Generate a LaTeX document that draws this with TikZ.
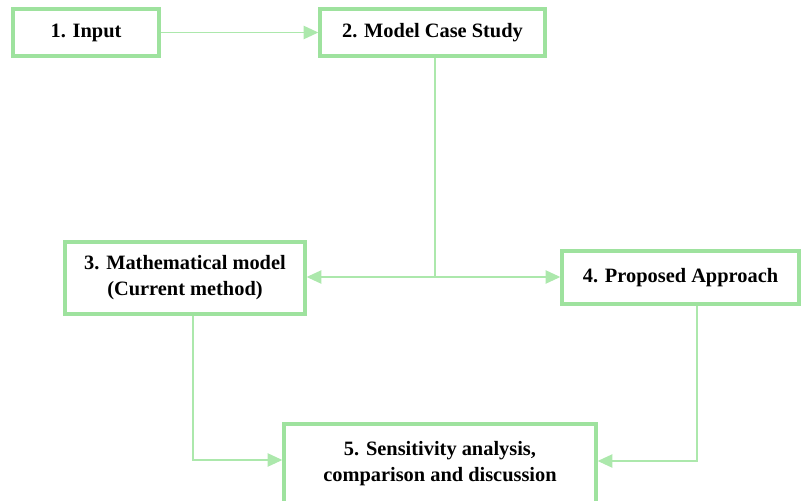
\documentclass[tikz,border=0pt]{standalone}
\usepackage{fontspec}
\setmainfont{Liberation Serif}
\usetikzlibrary{arrows.meta,positioning,calc}

\definecolor{boxgreen}{RGB}{158,226,158}
\definecolor{linegreen}{RGB}{172,232,172}

\begin{document}
\begin{tikzpicture}[
    x=0.025cm, y=-0.025cm,
    block/.style={draw=boxgreen, line width=2.4pt, rectangle, fill=white, align=center, inner sep=2pt, font=\fontsize{14.5}{18.5}\selectfont\bfseries},
    edge/.style={draw=linegreen, line width=1.1pt},
    arrow/.style={edge, -{Triangle[length=10.5pt,width=9.5pt]}},
]
\useasboundingbox (0,0) rectangle (801,500);

% Input and case study
\node[block, minimum width=146*0.025cm, minimum height=47*0.025cm] (one) at (86,32.5) {1. Input};
\node[block, minimum width=225*0.025cm, minimum height=47*0.025cm] (two) at (432.5,32.5) {2. Model Case Study};

% Methods
\node[block, minimum width=240*0.025cm, minimum height=72*0.025cm] (three) at (185,278) {3. Mathematical model\\(Current method)};
\node[block, minimum width=237*0.025cm, minimum height=53*0.025cm] (four) at (680.5,277.5) {4. Proposed Approach};

% Results
\node[block, minimum width=312*0.025cm, minimum height=80*0.025cm] (five) at (440,464) {5. Sensitivity analysis,\\comparison and discussion};

\coordinate (fork) at (435,277);
\coordinate (bendL) at (193,460);
\coordinate (bendR) at (697,461);

\draw[arrow] (one) -- (two);
\draw[edge] (two.south -| fork) -- (fork);
\draw[arrow] (fork) -- (fork -| three.east);
\draw[arrow] (fork) -- (fork -| four.west);
\draw[arrow] (three.south -| bendL) |- (five.west |- bendL);
\draw[arrow] (four.south -| bendR) |- (five.east |- bendR);

\end{tikzpicture}
\end{document}
